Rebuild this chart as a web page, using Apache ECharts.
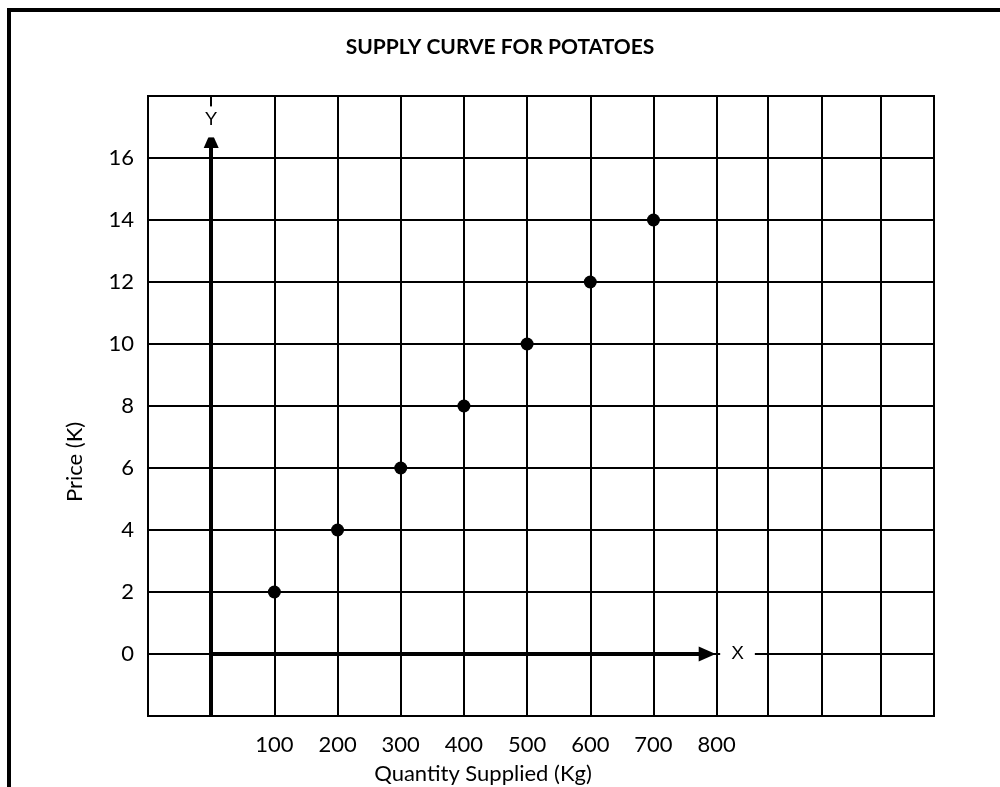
<!DOCTYPE html>
<html>
<head>
<meta charset="utf-8">
<script src="https://cdn.jsdelivr.net/npm/echarts@6/dist/echarts.min.js"></script>
<style>
  html, body { margin: 0; padding: 0; background: #fff; }
  #box { width: 1000px; height: 787px; }
</style>
</head>
<body>
<div id="box"></div>
<script>
// 数据
var quantity = [100, 200, 300, 400, 500, 600, 700];
var price = [2, 4, 6, 8, 10, 12, 14];
var xTickLabels = [100, 200, 300, 400, 500, 600, 700, 800];
var yTickLabels = [0, 2, 4, 6, 8, 10, 12, 14, 16];
// 网格竖线（右侧几格比左侧窄）
var xGridLines = [-100, 0, 100, 200, 300, 400, 500, 600, 700, 800, 881, 966, 1060];

var points = quantity.map(function (q, i) { return [q, price[i]]; });

var chart = echarts.init(document.getElementById('box'));
chart.setOption({
    animation: false,
    title: {
        text: 'SUPPLY CURVE FOR POTATOES',
        left: 'center',
        top: 32,
        textStyle: { fontFamily: 'Lato', fontWeight: 'bold', fontSize: 21, color: '#000' }
    },
    grid: {
        left: 148, right: 66, top: 96, bottom: 71,
        show: true, borderColor: '#000', borderWidth: 2
    },
    xAxis: {
        type: 'value',
        min: -100,
        max: 1144,
        axisLine: { show: false },
        axisTick: { show: false, customValues: xGridLines },
        splitLine: { show: true, lineStyle: { color: '#000', width: 2 } },
        axisLabel: {
            customValues: xTickLabels,
            margin: 18,
            fontFamily: 'Lato', fontSize: 22, color: '#000'
        }
    },
    yAxis: {
        type: 'value',
        min: -2,
        max: 18,
        interval: 2,
        axisLine: { show: false },
        axisTick: { show: false },
        splitLine: { show: true, lineStyle: { color: '#000', width: 2 } },
        axisLabel: {
            customValues: yTickLabels,
            margin: 14,
            fontFamily: 'Lato', fontSize: 22, color: '#000'
        }
    },
    graphic: [
        {   // 外框
            type: 'rect',
            shape: { x: 9, y: 10, width: 1100, height: 900 },
            style: { fill: 'none', stroke: '#000', lineWidth: 4 },
            silent: true
        },
        {
            type: 'text',
            x: 75, y: 462,
            rotation: Math.PI / 2,
            style: {
                text: 'Price (K)', fill: '#000',
                font: '22px Lato', textAlign: 'center', textVerticalAlign: 'middle'
            },
            silent: true
        },
        {
            type: 'text',
            x: 483, y: 774,
            style: {
                text: 'Quantity Supplied (Kg)', fill: '#000',
                font: '22px Lato', textAlign: 'center', textVerticalAlign: 'middle'
            },
            silent: true
        }
    ],
    series: [
        {
            name: 'Supply',
            type: 'scatter',
            data: points,
            symbolSize: 13,
            itemStyle: { color: '#000', opacity: 1 },
            z: 5,
            markLine: {
                silent: true,
                symbol: ['none', 'triangle'],
                symbolSize: [15, 17],
                lineStyle: { color: '#000', width: 4, type: 'solid' },
                label: {
                    show: true,
                    position: 'end',
                    color: '#000',
                    fontFamily: 'Liberation Sans',
                    fontSize: 19,
                    backgroundColor: '#fff'
                },
                data: [
                    [
                        { coord: [0, -2], label: { formatter: 'Y', distance: 2, padding: [4, 4, 8, 4] } },
                        { coord: [0, 16.6] }
                    ],
                    [
                        { coord: [0, 0], label: { formatter: 'X', distance: 13, padding: [3, 11, 3, 11] } },
                        { coord: [785, 0] }
                    ]
                ]
            }
        }
    ]
});
</script>
</body>
</html>
